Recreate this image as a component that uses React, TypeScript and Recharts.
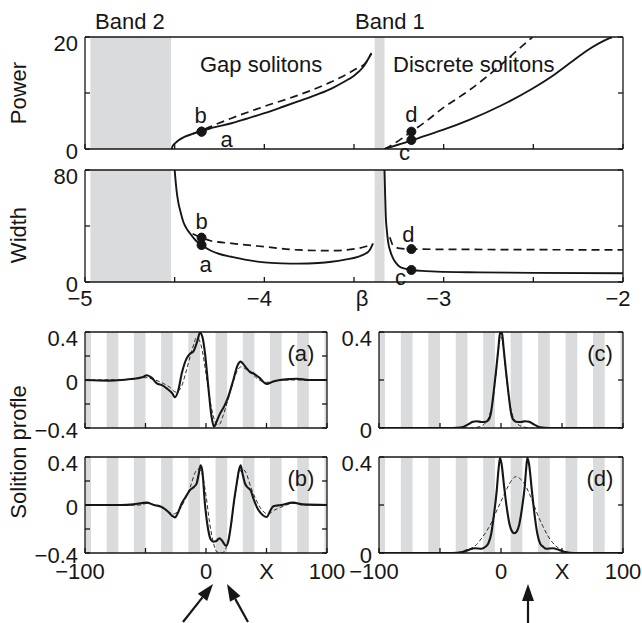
import { LineChart, Line, XAxis, YAxis, ReferenceArea, ReferenceDot } from "recharts";

const INK = "#161616";
const GREY = "#dadbdc";
const FONT = '"Liberation Sans", Arial, Helvetica, sans-serif';
const FS = 22;

type Pt = [number, number];

// ---- β panels (Power / Width) ----
const betaTicks = [-5, -4.5, -4, -3.5, -3, -2.5, -2];
const betaTickLabels = ["\u22125", "", "\u22124", "", "\u22123", "", "\u22122"];
const powerTicks = [0, 10, 20];
const powerTickLabels = ["0", "", "20"];
const widthTicks = [0, 40, 80];
const widthTickLabels = ["0", "", "80"];
const betaBands: Pt[] = [
  [-4.97, -4.52], // band 2
  [-3.385, -3.33], // band 1
];

const gapPowerSolid: Pt[] = [
  [-4.517, 0], [-4.51, 0.6], [-4.495, 1.1], [-4.48, 1.5], [-4.443, 2.2], [-4.4, 2.7],
  [-4.36, 3.1], [-4.3, 3.7], [-4.183, 4.6], [-4.1, 5.4], [-4.0, 6.4], [-3.9, 7.5],
  [-3.812, 8.5], [-3.7, 9.8], [-3.626, 10.8], [-3.55, 12.1], [-3.5, 13.1], [-3.45, 14.6],
  [-3.403, 17.1],
];
const gapPowerDashed: Pt[] = [
  [-4.4, 2.7], [-4.36, 3.2], [-4.3, 4.0], [-4.183, 5.5], [-4.0, 7.6], [-3.812, 9.6],
  [-3.626, 12.0], [-3.5, 14.1], [-3.43, 15.6], [-3.403, 17.1],
];
const discPowerSolid: Pt[] = [
  [-3.33, 0], [-3.25, 0.8], [-3.172, 1.6], [-3.1, 2.4], [-3.005, 3.4], [-2.857, 5.2],
  [-2.671, 7.9], [-2.504, 10.8], [-2.4, 12.9], [-2.298, 15.3], [-2.2, 17.6], [-2.075, 19.8],
  [-2.06, 20],
];
const discPowerDashed: Pt[] = [
  [-3.33, 0], [-3.25, 1.5], [-3.18, 3.1], [-3.1, 4.9], [-3.005, 7.3], [-2.93, 8.9],
  [-2.857, 10.5], [-2.76, 12.9], [-2.671, 15.3], [-2.59, 17.6], [-2.504, 20],
];

const gapWidthSolid: Pt[] = [
  [-4.5, 80], [-4.49, 66], [-4.48, 57], [-4.465, 49], [-4.452, 43], [-4.435, 38.5],
  [-4.415, 34.8], [-4.385, 30], [-4.35, 26.4], [-4.3, 22.5], [-4.25, 20], [-4.183, 18],
  [-4.1, 15.8], [-4.0, 14], [-3.9, 13.3], [-3.81, 13.1], [-3.7, 13.6], [-3.626, 14.5],
  [-3.55, 16], [-3.478, 18], [-3.44, 20], [-3.412, 22.9], [-3.394, 27.6],
];
const gapWidthDashed: Pt[] = [
  [-4.4, 34.5], [-4.35, 31.7], [-4.3, 29.5], [-4.183, 27.6], [-4.0, 25.2], [-3.81, 22.9],
  [-3.626, 22.4], [-3.478, 24], [-3.4, 26.9],
];
const discWidthSolid: Pt[] = [
  [-3.33, 80], [-3.327, 65], [-3.323, 47.9], [-3.317, 37], [-3.31, 28.8], [-3.296, 21.5],
  [-3.282, 16.9], [-3.265, 13.5], [-3.245, 10.9], [-3.215, 9.5], [-3.18, 8.6], [-3.1, 7.8],
  [-3.04, 7.4], [-2.8, 6.9], [-2.5, 6.5], [-2.0, 6.2],
];
const discWidthDashed: Pt[] = [
  [-3.3, 32], [-3.282, 26.2], [-3.245, 24], [-3.18, 23.5], [-2.5, 23.1], [-2.0, 22.9],
];

// marked solutions
const solA = { beta: -4.35, power: 3.1, width: 26.4 };
const solB = { beta: -4.35, power: 3.1, width: 31.7 };
const solC = { beta: -3.18, power: 1.6, width: 8.6 };
const solD = { beta: -3.18, power: 3.1, width: 23.5 };

// ---- soliton profiles ----
const xProfTicks = [-100, -50, 0, 50, 100];
const xProfTickLabels = ["\u2212100", "", "0", "X", "100"];
const symTicks = [-0.4, -0.2, 0, 0.2, 0.4];
const symTickLabels = ["\u22120.4", "", "0", "", "0.4"];
const posTicks = [0, 0.2, 0.4];
const posTickLabels = ["0", "", "0.4"];
const lattice: Pt[] = [
  [-100, -95], [-82.1, -72.5], [-59.6, -50], [-37.1, -27.5], [-14.6, -5], [7.9, 17.5],
  [30.4, 40], [52.9, 62.5], [75.4, 85], [97.9, 100],
];

const profASolid: Pt[] = [
  [-100, 0], [-80, -0.005], [-70, 0], [-60, 0.01], [-52, 0.025], [-49, 0.04], [-45, 0.02],
  [-40.7, -0.028], [-36, -0.045], [-32.5, -0.07], [-28, -0.11], [-25.6, -0.144], [-23, -0.09],
  [-20, 0.056], [-16, 0.18], [-13, 0.22], [-10.5, 0.236], [-7, 0.33], [-5, 0.395], [-3, 0.36],
  [-0.8, 0.22], [1.9, -0.056], [4.5, -0.3], [6.6, -0.39], [9, -0.34], [11.6, -0.28], [15, -0.22],
  [18.4, -0.14], [22.6, 0], [26, 0.12], [28.6, 0.153], [31, 0.13], [33.6, 0.097], [36, 0.07],
  [39, 0.056], [44, 0.02], [50.2, -0.033], [55, -0.015], [61, 0], [70, 0.008], [75, 0.01],
  [85, 0], [100, 0],
];
const profADashed: Pt[] = [
  [-100, 0], [-60, 0.005], [-50, 0.02], [-42, 0], [-35, -0.03], [-30, -0.06], [-25, -0.1],
  [-21, -0.07], [-17, 0.05], [-13, 0.2], [-10, 0.3], [-8, 0.35], [-6, 0.34], [-3, 0.24],
  [0, 0.05], [3, -0.15], [6, -0.3], [9, -0.37], [11, -0.37], [14, -0.3], [18, -0.17],
  [22, -0.03], [26, 0.08], [29, 0.11], [33, 0.09], [38, 0.05], [44, 0], [50, -0.02],
  [56, -0.01], [65, 0], [100, 0],
];
const profBSolid: Pt[] = [
  [-100, 0], [-70, 0], [-60, 0.005], [-49, 0.02], [-43, 0], [-38, -0.01], [-32, -0.05],
  [-28, -0.09], [-25.6, -0.103], [-23, -0.06], [-20, 0.014], [-16, 0.08], [-13.2, 0.125],
  [-10, 0.15], [-7.7, 0.18], [-6, 0.26], [-4.4, 0.33], [-3, 0.28], [-0.8, 0], [1.9, -0.21],
  [4, -0.29], [6, -0.306], [8.5, -0.3], [11, -0.278], [13.5, -0.3], [16.5, -0.34], [18.5, -0.3],
  [21.2, -0.125], [23, 0.02], [25.4, 0.18], [27, 0.28], [28.6, 0.33], [30.2, 0.26], [32.2, 0.18],
  [34, 0.15], [37, 0.12], [39, 0.06], [43.2, -0.04], [47, -0.085], [50.2, -0.1], [53, -0.05],
  [55.7, -0.01], [62, 0], [72, 0.02], [80, 0.005], [100, 0],
];
const profBDashed: Pt[] = [
  [-100, 0], [-55, 0], [-48, 0.015], [-40, -0.01], [-33, -0.04], [-27, -0.075], [-23, -0.05],
  [-18, 0.03], [-13, 0.15], [-9, 0.27], [-6, 0.3], [-3, 0.25], [0, 0.08], [3, -0.15],
  [6, -0.31], [9, -0.39], [12, -0.4], [15, -0.39], [18, -0.31], [21, -0.15], [24, 0.08],
  [27, 0.25], [30, 0.3], [33, 0.27], [37, 0.15], [42, 0.03], [47, -0.05], [51, -0.075],
  [57, -0.04], [64, -0.01], [72, 0.015], [80, 0], [100, 0],
];
const profCSolid: Pt[] = [
  [-100, 0], [-40, 0], [-32, 0.003], [-27, 0.015], [-23, 0.026], [-20, 0.028], [-16, 0.025],
  [-12.5, 0.026], [-10, 0.035], [-8, 0.07], [-6, 0.15], [-4, 0.24], [-2, 0.34], [-1, 0.39],
  [0, 0.4], [1, 0.39], [2, 0.34], [4, 0.24], [6, 0.15], [8, 0.07], [10, 0.035], [12.5, 0.026],
  [16, 0.025], [20, 0.028], [23, 0.026], [27, 0.015], [32, 0.003], [40, 0], [100, 0],
];
const profCDashed: Pt[] = [
  [-100, 0], [-25, 0], [-18, 0.005], [-13, 0.02], [-10, 0.045], [-8, 0.08], [-6, 0.14],
  [-4, 0.23], [-2, 0.33], [0, 0.38], [2, 0.33], [4, 0.23], [6, 0.14], [8, 0.08], [10, 0.045],
  [13, 0.02], [18, 0.005], [25, 0], [100, 0],
];
const profDSolid: Pt[] = [
  [-100, 0], [-40, 0], [-32, 0.004], [-27, 0.012], [-21.3, 0.02], [-16, 0.018], [-13, 0.025],
  [-10.4, 0.04], [-8, 0.08], [-6.3, 0.14], [-3.5, 0.26], [-2, 0.35], [-0.8, 0.396], [0.5, 0.37],
  [2.5, 0.28], [4.7, 0.19], [7, 0.12], [9, 0.09], [10.9, 0.082], [13, 0.09], [15, 0.12],
  [17.3, 0.19], [19.5, 0.28], [20.6, 0.35], [21.6, 0.396], [23, 0.37], [25.3, 0.26], [28, 0.14],
  [29.8, 0.08], [32, 0.04], [34.8, 0.025], [37, 0.018], [42.3, 0.02], [48, 0.012], [53, 0.004],
  [60, 0], [100, 0],
];
const profDDashed: Pt[] = [
  [-100, 0], [-35, 0], [-30, 0.01], [-20, 0.035], [-17, 0.054], [-12, 0.09], [-8, 0.125],
  [-5, 0.16], [0, 0.215], [5, 0.27], [9, 0.305], [12, 0.318], [15, 0.312], [19, 0.29],
  [23, 0.25], [27, 0.2], [30, 0.16], [34, 0.115], [38, 0.075], [42, 0.045], [46, 0.025],
  [50, 0.01], [55, 0], [100, 0],
];

const rows = (pts: Pt[]) => pts.map(([x, y]) => ({ x, y }));

const textStyle = { fontSize: FS, fill: INK, fontFamily: FONT };

// labels with a leading minus are centred on their digits
function xTick(ticks: number[], labels: string[]) {
  return (p: any) => {
    const i = ticks.indexOf(p.payload.value);
    const s = i >= 0 ? labels[i] : "";
    if (!s) return <g />;
    const dx = s.startsWith("\u2212") ? -5 : 0;
    return (
      <text x={p.x + dx} y={p.y} dy="0.71em" textAnchor="middle" {...textStyle}>
        {s}
      </text>
    );
  };
}

function yTick(ticks: number[], labels: string[]) {
  const top = Math.max(...ticks);
  return (p: any) => {
    const v = p.payload.value;
    const i = ticks.indexOf(v);
    const s = i >= 0 ? labels[i] : "";
    if (!s) return <g />;
    const shift = v === top ? 6 : 2;
    return (
      <text x={p.x} y={p.y + shift} dy="0.35em" textAnchor="end" {...textStyle}>
        {s}
      </text>
    );
  };
}

const blankTick = () => <g />;

function letter(txt: string, dx: number, dy: number) {
  return (props: any) => {
    const vb = props.viewBox;
    if (!vb) return null;
    const cx = vb.x + (vb.width || 0) / 2;
    const cy = vb.y + (vb.height || 0) / 2;
    return (
      <text x={cx + dx} y={cy + dy} textAnchor="middle" {...textStyle}>
        {txt}
      </text>
    );
  };
}

const axisStroke = { stroke: INK, strokeWidth: 1.3 };

interface PanelProps {
  left: number;
  top: number;
  width: number;
  height: number;
  marginTop: number;
  marginRight: number;
  yAxisWidth: number;
  xAxisHeight: number;
  xDomain: [number, number];
  xTicks: number[];
  xLabels: string[] | null;
  xTickMargin: number;
  yDomain: [number, number];
  yTicks: number[];
  yLabels: string[];
  bands: Pt[];
  children: any;
}

function Panel(pp: PanelProps) {
  return (
    <div style={{ position: "absolute", left: pp.left, top: pp.top }}>
      <LineChart
        width={pp.width}
        height={pp.height}
        margin={{ top: pp.marginTop, right: pp.marginRight, bottom: 0, left: 0 }}
      >
        {pp.bands.map(([a, b], i) => (
          <ReferenceArea
            key={`band${i}`}
            x1={a}
            x2={b}
            fill={GREY}
            fillOpacity={1}
            stroke="none"
            ifOverflow="hidden"
          />
        ))}
        {pp.children}
        <XAxis
          dataKey="x"
          type="number"
          domain={pp.xDomain}
          ticks={pp.xTicks}
          interval={0}
          allowDataOverflow
          height={pp.xAxisHeight}
          tickSize={-5}
          tickMargin={pp.xTickMargin}
          tick={pp.xLabels ? xTick(pp.xTicks, pp.xLabels) : blankTick}
          axisLine={axisStroke}
          tickLine={axisStroke}
        />
        <XAxis
          xAxisId="top"
          orientation="top"
          type="number"
          domain={pp.xDomain}
          ticks={pp.xTicks}
          interval={0}
          allowDataOverflow
          height={1}
          tickSize={-5}
          tick={blankTick}
          axisLine={axisStroke}
          tickLine={axisStroke}
        />
        <YAxis
          type="number"
          domain={pp.yDomain}
          ticks={pp.yTicks}
          interval={0}
          allowDataOverflow
          width={pp.yAxisWidth}
          tickSize={-5}
          tickMargin={12}
          tick={yTick(pp.yTicks, pp.yLabels)}
          axisLine={axisStroke}
          tickLine={axisStroke}
        />
        <YAxis
          yAxisId="r"
          orientation="right"
          type="number"
          domain={pp.yDomain}
          ticks={pp.yTicks}
          interval={0}
          allowDataOverflow
          width={1}
          tickSize={-5}
          tick={blankTick}
          axisLine={axisStroke}
          tickLine={axisStroke}
        />
      </LineChart>
    </div>
  );
}

function solid(key: string, pts: Pt[], w = 1.9) {
  return (
    <Line
      key={key}
      data={rows(pts)}
      dataKey="y"
      type="monotone"
      stroke={INK}
      strokeWidth={w}
      dot={false}
      isAnimationActive={false}
    />
  );
}

function dashed(key: string, pts: Pt[], w = 1.7, dash = "8 5") {
  return (
    <Line
      key={key}
      data={rows(pts)}
      dataKey="y"
      type="monotone"
      stroke={INK}
      strokeWidth={w}
      strokeDasharray={dash}
      dot={false}
      isAnimationActive={false}
    />
  );
}

function dotAt(key: string, x: number, y: number, lbl: any) {
  return (
    <ReferenceDot key={key} x={x} y={y} r={4.5} fill={INK} stroke={INK} label={lbl} />
  );
}

function Arrow({ x1, y1, x2, y2 }: { x1: number; y1: number; x2: number; y2: number }) {
  const len = Math.hypot(x2 - x1, y2 - y1);
  const ux = (x2 - x1) / len;
  const uy = (y2 - y1) / len;
  const hl = 17;
  const hw = 6;
  const bx = x2 - ux * hl;
  const by = y2 - uy * hl;
  const pts = `${x2},${y2} ${bx - uy * hw},${by + ux * hw} ${bx + uy * hw},${by - ux * hw}`;
  return (
    <g>
      <line x1={x1} y1={y1} x2={bx} y2={by} stroke={INK} strokeWidth={2.2} />
      <polygon points={pts} fill={INK} />
    </g>
  );
}

export default function App() {
  const betaDomain: [number, number] = [-5, -2];
  const profDomain: [number, number] = [-100, 100];
  return (
    <div
      style={{
        position: "absolute",
        left: 0,
        top: 0,
        width: 642,
        height: 623,
        background: "#fff",
        fontFamily: FONT,
        overflow: "hidden",
      }}
    >
      {/* Power vs β */}
      <Panel
        left={0}
        top={0}
        width={642}
        height={170}
        marginTop={36}
        marginRight={18}
        yAxisWidth={85}
        xAxisHeight={21}
        xDomain={betaDomain}
        xTicks={betaTicks}
        xLabels={null}
        xTickMargin={13}
        yDomain={[0, 20]}
        yTicks={powerTicks}
        yLabels={powerTickLabels}
        bands={betaBands}
      >
        {[
          dashed("gpd", gapPowerDashed),
          solid("gps", gapPowerSolid),
          dashed("dpd", discPowerDashed),
          solid("dps", discPowerSolid),
          dotAt("pb", solB.beta, solB.power, letter("b", -1, -9)),
          dotAt("pa", solA.beta, solA.power, letter("a", 25, 15)),
          dotAt("pd", solD.beta, solD.power, letter("d", 0, -10)),
          dotAt("pc", solC.beta, solC.power, letter("c", -7, 20)),
        ]}
      </Panel>

      {/* Width vs β */}
      <Panel
        left={0}
        top={140}
        width={642}
        height={175}
        marginTop={29}
        marginRight={18}
        yAxisWidth={85}
        xAxisHeight={33}
        xDomain={betaDomain}
        xTicks={betaTicks}
        xLabels={betaTickLabels}
        xTickMargin={13}
        yDomain={[0, 80]}
        yTicks={widthTicks}
        yLabels={widthTickLabels}
        bands={betaBands}
      >
        {[
          dashed("gwd", gapWidthDashed),
          solid("gws", gapWidthSolid),
          dashed("dwd", discWidthDashed),
          solid("dws", discWidthSolid),
          dotAt("wb", solB.beta, solB.width, letter("b", 0, -9)),
          dotAt("wa", solA.beta, solA.width, letter("a", 4, 27)),
          dotAt("wd", solD.beta, solD.width, letter("d", -3, -7)),
          dotAt("wc", solC.beta, solC.width, letter("c", -11, 15)),
        ]}
      </Panel>

      {/* (a) */}
      <Panel
        left={0}
        top={300}
        width={350}
        height={150}
        marginTop={31}
        marginRight={22}
        yAxisWidth={85}
        xAxisHeight={22}
        xDomain={profDomain}
        xTicks={xProfTicks}
        xLabels={null}
        xTickMargin={15}
        yDomain={[-0.4, 0.4]}
        yTicks={symTicks}
        yLabels={symTickLabels}
        bands={lattice}
      >
        {[dashed("ad", profADashed, 0.9, "4 2.5"), solid("as", profASolid, 2.1)]}
      </Panel>

      {/* (b) */}
      <Panel
        left={0}
        top={425}
        width={350}
        height={175}
        marginTop={31}
        marginRight={22}
        yAxisWidth={85}
        xAxisHeight={47}
        xDomain={profDomain}
        xTicks={xProfTicks}
        xLabels={xProfTickLabels}
        xTickMargin={15}
        yDomain={[-0.4, 0.4]}
        yTicks={symTicks}
        yLabels={symTickLabels}
        bands={lattice}
      >
        {[dashed("bd", profBDashed, 0.9, "4 2.5"), solid("bs", profBSolid, 2.1)]}
      </Panel>

      {/* (c) */}
      <Panel
        left={300}
        top={300}
        width={342}
        height={150}
        marginTop={31}
        marginRight={18}
        yAxisWidth={79}
        xAxisHeight={22}
        xDomain={profDomain}
        xTicks={xProfTicks}
        xLabels={null}
        xTickMargin={15}
        yDomain={[0, 0.4]}
        yTicks={posTicks}
        yLabels={posTickLabels}
        bands={lattice}
      >
        {[dashed("cd", profCDashed, 0.9, "4 2.5"), solid("cs", profCSolid, 2.1)]}
      </Panel>

      {/* (d) */}
      <Panel
        left={300}
        top={425}
        width={342}
        height={175}
        marginTop={31}
        marginRight={18}
        yAxisWidth={79}
        xAxisHeight={47}
        xDomain={profDomain}
        xTicks={xProfTicks}
        xLabels={xProfTickLabels}
        xTickMargin={15}
        yDomain={[0, 0.4]}
        yTicks={posTicks}
        yLabels={posTickLabels}
        bands={lattice}
      >
        {[dashed("dd", profDDashed, 0.9, "4 2.5"), solid("ds", profDSolid, 2.1)]}
      </Panel>

      {/* figure annotations */}
      <svg
        width={642}
        height={623}
        style={{ position: "absolute", left: 0, top: 0, pointerEvents: "none" }}
      >
        <text x={95} y={29} {...textStyle}>Band 2</text>
        <text x={355} y={29} {...textStyle}>Band 1</text>
        <text x={200} y={72} {...textStyle}>Gap solitons</text>
        <text x={393} y={72} {...textStyle}>Discrete solitons</text>
        <text x={26} y={93} textAnchor="middle" transform="rotate(-90 26 93)" {...textStyle}>
          Power
        </text>
        <text x={26} y={235} textAnchor="middle" transform="rotate(-90 26 235)" {...textStyle}>
          Width
        </text>
        <text x={362} y={306} textAnchor="middle" {...textStyle}>β</text>
        <text x={26} y={452} textAnchor="middle" transform="rotate(-90 26 452)" {...textStyle}>
          Solition profle
        </text>
        <text x={301} y={361} textAnchor="middle" {...textStyle}>(a)</text>
        <text x={600} y={361} textAnchor="middle" {...textStyle}>(c)</text>
        <text x={301} y={486} textAnchor="middle" {...textStyle}>(b)</text>
        <text x={600} y={486} textAnchor="middle" {...textStyle}>(d)</text>
        <Arrow x1={183} y1={622} x2={213} y2={584} />
        <Arrow x1={248} y1={622} x2={227} y2={584} />
        <Arrow x1={528} y1={623} x2={528} y2={584} />
      </svg>
    </div>
  );
}
